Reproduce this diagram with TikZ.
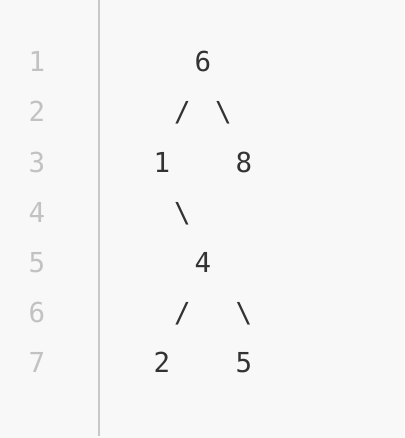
\documentclass[tikz,border=0pt]{standalone}
\usepackage{fontspec}
\newfontfamily\codefont{DejaVu Sans Mono}
\definecolor{bgc}{HTML}{F8F8F8}
\definecolor{rulec}{HTML}{C8C8C8}
\definecolor{numc}{HTML}{C2C2C2}
\definecolor{codec}{HTML}{333333}
\tikzset{
  ch/.style={anchor=base, inner sep=0pt, text=codec, font=\codefont\fontsize{27.5}{27.5}\selectfont},
  ln/.style={anchor=base, inner sep=0pt, text=numc, font=\codefont\fontsize{27.5}{27.5}\selectfont},
}
\begin{document}
\begin{tikzpicture}[x=1pt,y=-1pt]
\fill[bgc] (0,0) rectangle (404,438);
\useasboundingbox (0,0) rectangle (404,438);
\draw[rulec, line width=2pt] (99,0) -- (99,436);
% line numbers
\foreach \n [evaluate=\n as \yy using {22+50*\n}] in {1,...,7}
  \node[ln] (ln\n) at (37,\yy) {\n};
% code
\node[ch] (r6)  at (203,72)  {6};
\node[ch] (s1)  at (182.5,122) {/};
\node[ch] (s2)  at (223.5,122) {\textbackslash};
\node[ch] (r1)  at (162,172) {1};
\node[ch] (r8)  at (244,172) {8};
\node[ch] (s3)  at (182.5,222) {\textbackslash};
\node[ch] (r4)  at (203,272) {4};
\node[ch] (s4)  at (182.5,322) {/};
\node[ch] (s5)  at (244,322) {\textbackslash};
\node[ch] (r2)  at (162,372) {2};
\node[ch] (r5)  at (244,372) {5};
\end{tikzpicture}
\end{document}
